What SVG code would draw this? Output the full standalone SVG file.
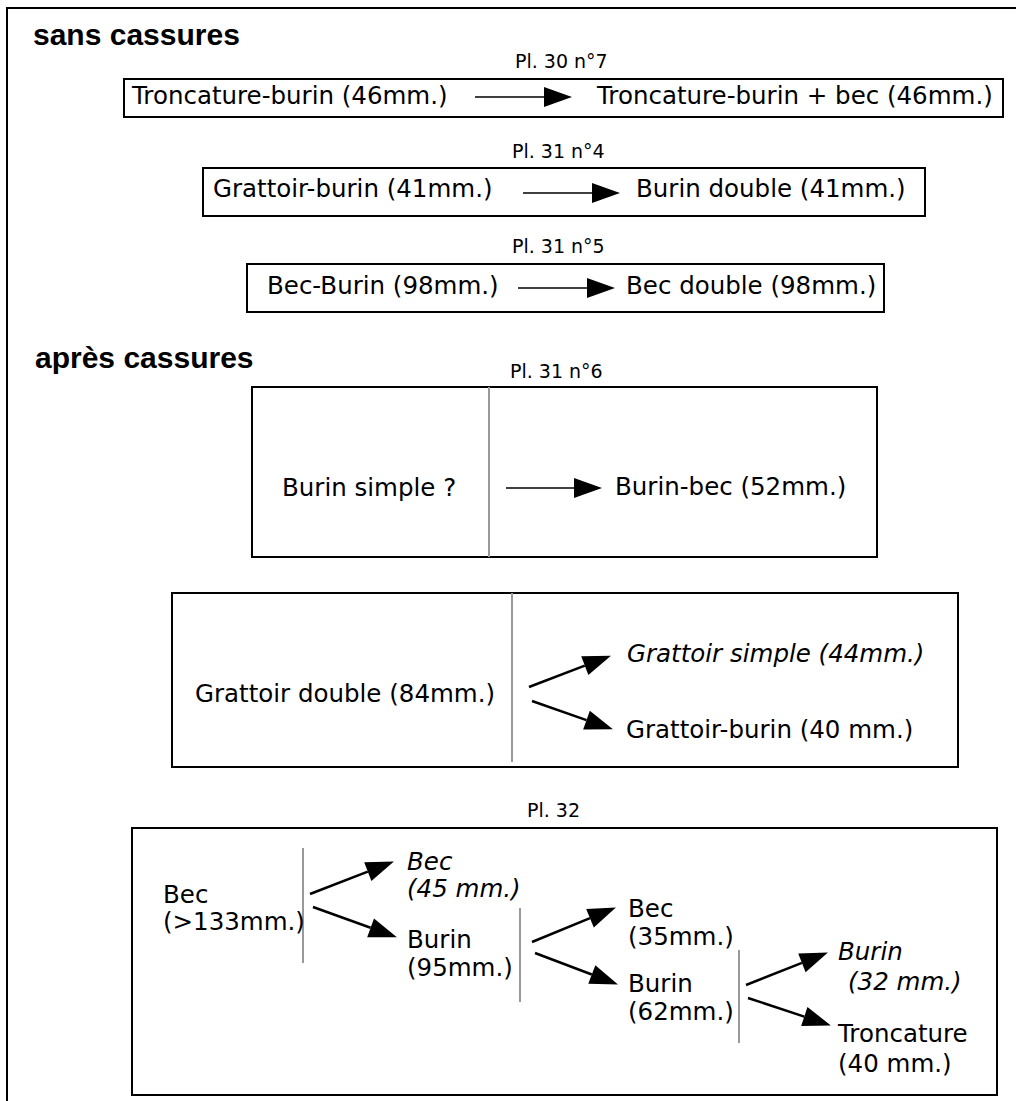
<svg xmlns="http://www.w3.org/2000/svg" width="1016" height="1101" viewBox="0 0 1016 1101">
<style>
.box{fill:none;stroke:#000;stroke-width:2}
.div{stroke:#999;stroke-width:2}
.t{font-family:"DejaVu Sans",sans-serif;font-size:24.5px;fill:#000}
.it{font-style:italic}
.pl{font-family:"DejaVu Sans",sans-serif;font-size:19px;fill:#000}
.h{font-family:"Liberation Sans",Arial,sans-serif;font-weight:bold;font-size:30px;fill:#000}
.ah{stroke:#000;stroke-width:1.6;fill:none}
.ad{stroke:#000;stroke-width:2.5;fill:none}
</style>
<defs>
<marker id="head" markerUnits="userSpaceOnUse" markerWidth="28" markerHeight="20" refX="0" refY="10" orient="auto" overflow="visible">
<path d="M0,0 L28,10 L0,20 Z" fill="#000"/>
</marker>
</defs>
<rect width="1016" height="1101" fill="#fff"/>
<rect x="7" y="8" width="1030" height="1110" class="box"/>

<text class="h" x="33" y="45">sans cassures</text>
<text class="h" x="35" y="368">après cassures</text>

<g id="pl1"><text class="pl" x="515" y="68">Pl. 30 n°7</text></g>
<g id="row1">
<rect class="box" x="124" y="79" width="879" height="38"/>
<text class="t" x="132" y="104">Troncature-burin (46mm.)</text>
<text class="t" x="597" y="104">Troncature-burin + bec (46mm.)</text>
</g>

<g id="pl2"><text class="pl" x="512" y="158">Pl. 31 n°4</text></g>
<g id="row2">
<rect class="box" x="203" y="168" width="722" height="48"/>
<text class="t" x="213" y="197">Grattoir-burin (41mm.)</text>
<text class="t" x="636" y="197">Burin double (41mm.)</text>
</g>

<g id="pl3"><text class="pl" x="512" y="253">Pl. 31 n°5</text></g>
<g id="row3">
<rect class="box" x="247" y="264" width="637" height="48"/>
<text class="t" x="267" y="294">Bec-Burin (98mm.)</text>
<text class="t" x="626" y="294">Bec double (98mm.)</text>
</g>

<g id="pl4"><text class="pl" x="510" y="378">Pl. 31 n°6</text></g>
<g id="row4">
<rect class="box" x="252" y="387" width="625" height="170"/>
<line class="div" x1="489" y1="387" x2="489" y2="557"/>
<text class="t" x="282" y="496">Burin simple ?</text>
<text class="t" x="615" y="495">Burin-bec (52mm.)</text>
</g>

<g id="row5">
<rect class="box" x="172" y="593" width="786" height="174"/>
<line class="div" x1="512" y1="593" x2="512" y2="762"/>
<text class="t" x="195" y="702">Grattoir double (84mm.)</text>
<text class="t it" x="627" y="662">Grattoir simple (44mm.)</text>
<text class="t" x="626" y="738">Grattoir-burin (40 mm.)</text>
</g>

<g id="pl6"><text class="pl" x="527" y="817">Pl. 32</text></g>
<g id="row6">
<rect class="box" x="132" y="828" width="865" height="267"/>
<line class="div" x1="303" y1="848" x2="303" y2="963"/>
<line class="div" x1="520" y1="908" x2="520" y2="1002"/>
<line class="div" x1="739" y1="950" x2="739" y2="1043"/>
<text class="t" x="163" y="903">Bec</text>
<text class="t" x="163" y="930">(&gt;133mm.)</text>
<text class="t it" x="407" y="870">Bec</text>
<text class="t it" x="407" y="897">(45 mm.)</text>
<text class="t" x="407" y="948">Burin</text>
<text class="t" x="407" y="976">(95mm.)</text>
<text class="t" x="628" y="917">Bec</text>
<text class="t" x="628" y="945">(35mm.)</text>
<text class="t" x="628" y="992">Burin</text>
<text class="t" x="628" y="1020">(62mm.)</text>
<text class="t it" x="838" y="960">Burin</text>
<text class="t it" x="848" y="990">(32 mm.)</text>
<text class="t" x="838" y="1042">Troncature</text>
<text class="t" x="838" y="1072">(40 mm.)</text>
</g>

<g id="connectors">
<line class="ah" x1="475" y1="97" x2="544" y2="97" marker-end="url(#head)"/>
<line class="ah" x1="523" y1="193" x2="592" y2="193" marker-end="url(#head)"/>
<line class="ah" x1="518" y1="288" x2="587" y2="288" marker-end="url(#head)"/>
<line class="ah" x1="506" y1="488" x2="574" y2="488" marker-end="url(#head)"/>
<line class="ad" x1="529" y1="687" x2="584.8" y2="665.7" marker-end="url(#head)"/>
<line class="ad" x1="532" y1="701" x2="586.5" y2="720.1" marker-end="url(#head)"/>
<line class="ad" x1="310" y1="894" x2="367.8" y2="871.7" marker-end="url(#head)"/>
<line class="ad" x1="313" y1="907" x2="370.6" y2="927.8" marker-end="url(#head)"/>
<line class="ad" x1="532" y1="942" x2="590" y2="918.2" marker-end="url(#head)"/>
<line class="ad" x1="535" y1="953" x2="591.8" y2="974.5" marker-end="url(#head)"/>
<line class="ad" x1="746" y1="985" x2="801.9" y2="962.9" marker-end="url(#head)"/>
<line class="ad" x1="748" y1="998" x2="804.3" y2="1016.6" marker-end="url(#head)"/>
</g>
</svg>
